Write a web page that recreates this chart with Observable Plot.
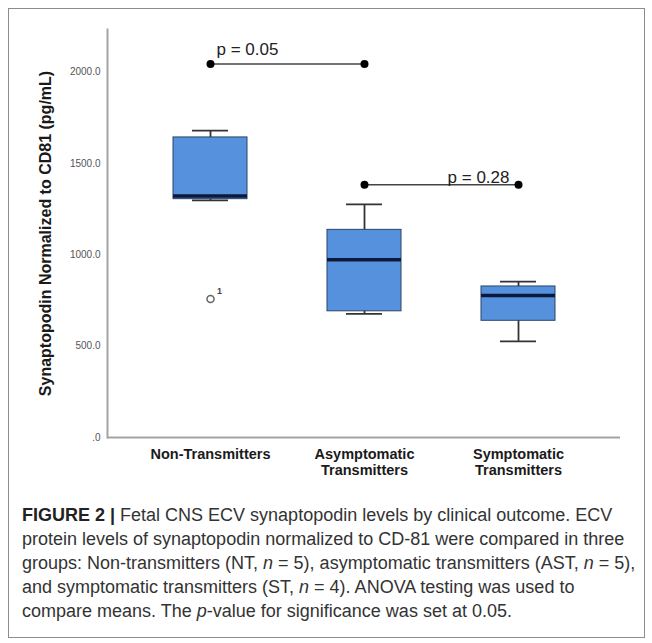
<!DOCTYPE html>
<html><head><meta charset="utf-8">
<script src="https://cdn.jsdelivr.net/npm/d3@7"></script>
<script src="https://cdn.jsdelivr.net/npm/@observablehq/plot@0.6"></script>
<style>
body{margin:0;background:#fff;width:652px;height:643px;position:relative;overflow:hidden;font-family:"Liberation Sans",Arial,sans-serif}
#frame{position:absolute;left:8px;top:8px;width:637px;height:630px;border:1.5px solid #8c8c8c;box-sizing:border-box}
#chart{position:absolute;left:0;top:0}
#caption{position:absolute;left:22px;top:503px;font-size:18px;line-height:24px;color:#333;white-space:nowrap}
#caption b{color:#222}
</style></head><body>
<div id="frame"></div>
<div id="chart"></div>
<div id="caption"><b>FIGURE 2 |</b> Fetal CNS ECV synaptopodin levels by clinical outcome. ECV<br>protein levels of synaptopodin normalized to CD-81 were compared in three<br>groups: Non-transmitters (NT, <i>n</i> = 5), asymptomatic transmitters (AST, <i>n</i> = 5),<br>and symptomatic transmitters (ST, <i>n</i> = 4). ANOVA testing was used to<br>compare means. The <i>p</i>-value for significance was set at 0.05.</div>
<script>
const categories = ["Non-Transmitters", "Asymptomatic Transmitters", "Symptomatic Transmitters"];
const whiskerLow = [1298, 677, 526];
const q1 = [1305, 691, 639];
const median = [1323, 973, 777];
const q3 = [1643, 1137, 827];
const whiskerHigh = [1680, 1276, 854];
const outlierCategory = ["Non-Transmitters"];
const outlierValue = [759];
const outlierLabel = ["1"];
const bracketFrom = ["Non-Transmitters", "Asymptomatic Transmitters"];
const bracketTo = ["Asymptomatic Transmitters", "Symptomatic Transmitters"];
const bracketY = [2045, 1384];
const bracketLabel = ["p = 0.05", "p = 0.28"];
const yTicks = [0, 500, 1000, 1500, 2000];
const yMax = 2234;
const yLabel = "Synaptopodin Normalized to CD81 (pg/mL)";

const boxes = categories.map((c, i) => ({category: c, low: whiskerLow[i], q1: q1[i], median: median[i], q3: q3[i], high: whiskerHigh[i]}));
const outliers = outlierCategory.map((c, i) => ({category: c, value: outlierValue[i], label: outlierLabel[i]}));
const brackets = bracketFrom.map((f, i) => ({from: f, to: bracketTo[i], y: bracketY[i], label: bracketLabel[i]}));
const ends = brackets.flatMap(b => [{category: b.from, y: b.y}, {category: b.to, y: b.y}]);

const whisk = {stroke: "#333", strokeWidth: 1.8};
const chart = Plot.plot({
  width: 652, height: 480,
  marginLeft: 107, marginRight: 32, marginTop: 29, marginBottom: 43,
  style: {background: "transparent", fontFamily: "'Liberation Sans', Arial, sans-serif", overflow: "visible"},
  x: {domain: categories, paddingInner: 0.521, paddingOuter: 0.42},
  y: {domain: [0, yMax]},
  marks: [
    Plot.axisY({ticks: yTicks, tickSize: 0, tickPadding: 7, tickFormat: d => d === 0 ? ".0" : d.toFixed(1), fontSize: 10, fill: "#555", label: null}),
    Plot.axisX({tickSize: 0, tickPadding: 10, tickFormat: d => d.replace(" ", "\n"), fontSize: 14.5, fontWeight: "bold", fill: "#1a1a1a", label: null, lineHeight: 1.1}),
    Plot.text([yLabel], {frameAnchor: "left", textAnchor: "middle", rotate: -90, dx: -62, fontSize: 16, fontWeight: "bold", fill: "#1a1a1a"}),
    Plot.frame({anchor: "left", stroke: "#a3a3a3", strokeWidth: 2}),
    Plot.ruleY([0], {stroke: "#a3a3a3", strokeWidth: 2}),
    Plot.ruleX(boxes, {x: "category", y1: "low", y2: "high", ...whisk}),
    Plot.tickY(boxes, {x: "category", y: "high", insetLeft: 19, insetRight: 19, ...whisk}),
    Plot.tickY(boxes, {x: "category", y: "low", insetLeft: 19, insetRight: 19, ...whisk}),
    Plot.barY(boxes, {x: "category", y1: "q1", y2: "q3", fill: "#5591dc", stroke: "#2d4466", strokeWidth: 1}),
    Plot.tickY(boxes, {x: "category", y: "median", stroke: "#0b1a3a", strokeWidth: 3.5}),
    Plot.dot(outliers, {x: "category", y: "value", r: 3.5, stroke: "#666", strokeWidth: 1.5}),
    Plot.text(outliers, {x: "category", y: "value", text: "label", dx: 9, dy: -8, fontSize: 9, fontWeight: "bold", fill: "#444"}),
    Plot.link(brackets, {x1: "from", x2: "to", y1: "y", y2: "y", stroke: "#444", strokeWidth: 1.5}),
    Plot.dot(ends, {x: "category", y: "y", r: 4, fill: "#000"}),
    Plot.text(brackets.slice(0, 1), {x: "from", y: "y", text: "label", textAnchor: "start", lineAnchor: "bottom", dx: 6, dy: -9, fontSize: 17, fill: "#222"}),
    Plot.text(brackets.slice(1), {x: "to", y: "y", text: "label", textAnchor: "end", lineAnchor: "bottom", dx: -9, dy: -2, fontSize: 17, fill: "#222"})
  ]
});
document.getElementById("chart").appendChild(chart);
</script>
</body></html>
